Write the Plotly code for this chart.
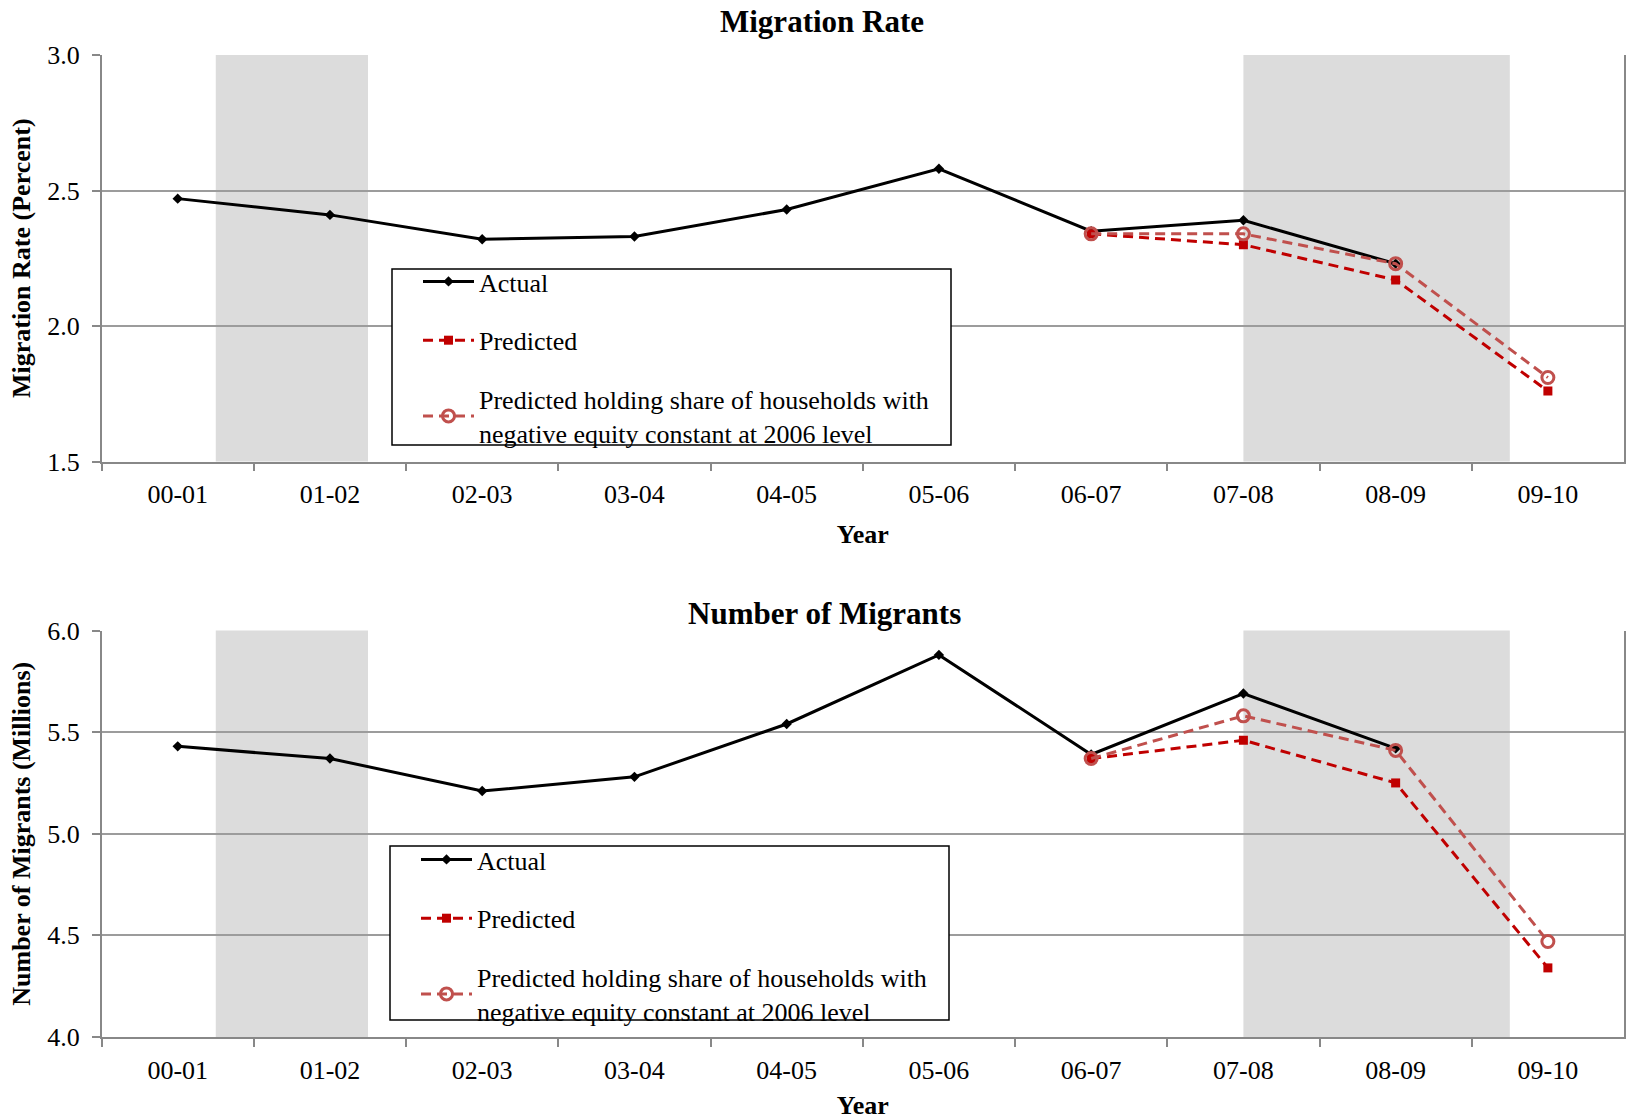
import plotly.graph_objects as go

years = ["00-01", "01-02", "02-03", "03-04", "04-05", "05-06", "06-07", "07-08", "08-09", "09-10"]

# Top panel: migration rate (percent)
rate_actual = [2.47, 2.41, 2.32, 2.33, 2.43, 2.58, 2.35, 2.39, 2.23]
pred_years = ["06-07", "07-08", "08-09", "09-10"]
rate_pred = [2.34, 2.30, 2.17, 1.76]
rate_const = [2.34, 2.34, 2.23, 1.81]

# Bottom panel: number of migrants (millions)
mig_actual = [5.43, 5.37, 5.21, 5.28, 5.54, 5.88, 5.39, 5.69, 5.42]
mig_pred = [5.37, 5.46, 5.25, 4.34]
mig_const = [5.37, 5.58, 5.41, 4.47]

# Recession shading (category index units)
recessions = [(0.25, 1.25), (7.0, 8.75)]

FONT = "Liberation Serif"
BLACK = "#000000"
RED = "#C00000"
ROSE = "#C0504D"
GRID = "#9c9c9c"
AXC = "#888888"

W, H = 1626, 1120


def px_x(v):
    return v / W


def px_y(v):
    return 1 - v / H


fig = go.Figure()

names = ["Actual", "Predicted",
         "Predicted holding share of households with<br>negative equity constant at 2006 level"]


def add_panel(xa, ya, legend, actual, pred, const):
    fig.add_trace(go.Scatter(
        x=years[:len(actual)], y=actual, name=names[0], xaxis=xa, yaxis=ya,
        mode="lines+markers", line=dict(color=BLACK, width=3),
        marker=dict(symbol="diamond", size=8, color=BLACK),
        legend=legend, legendgroup=legend + "a"))
    fig.add_trace(go.Scatter(
        x=pred_years, y=pred, name=names[1], xaxis=xa, yaxis=ya,
        mode="lines+markers", line=dict(color=RED, width=3, dash="10px,6px"),
        marker=dict(symbol="square", size=9, color=RED),
        legend=legend, legendgroup=legend + "b"))
    fig.add_trace(go.Scatter(
        x=pred_years, y=const, name=names[2], xaxis=xa, yaxis=ya,
        mode="lines+markers", line=dict(color=ROSE, width=3, dash="10px,6px"),
        marker=dict(symbol="circle-open", size=12, color=ROSE, line=dict(width=3)),
        legend=legend, legendgroup=legend + "c"))


add_panel("x", "y", "legend", rate_actual, rate_pred, rate_const)
add_panel("x2", "y2", "legend2", mig_actual, mig_pred, mig_const)

shapes = []
for xr, yr in (("x", "y"), ("x2", "y2")):
    for a, b in recessions:
        shapes.append(dict(type="rect", xref=xr, yref=yr + " domain", x0=a, x1=b, y0=0, y1=1,
                           fillcolor="#dcdcdc", line=dict(width=0), layer="below"))

# legend frames
for (l, r, t, b) in ((392, 951, 269, 445), (390, 949, 846, 1020)):
    shapes.append(dict(type="rect", xref="paper", yref="paper",
                       x0=px_x(l), x1=px_x(r), y0=px_y(b), y1=px_y(t),
                       fillcolor="white", line=dict(color=BLACK, width=1.5), layer="above"))

xdom = [px_x(101.6), px_x(1624)]
top_dom = [px_y(461.5), px_y(55)]
bot_dom = [px_y(1037), px_y(630.5)]

tickfont = dict(family=FONT, size=26, color=BLACK)
titlefont = dict(family=FONT, size=26, color=BLACK)


def xaxis(anchor):
    return dict(domain=xdom, anchor=anchor, type="category", categoryorder="array",
                categoryarray=years, range=[-0.5, 9.5], tickson="boundaries",
                ticks="outside", ticklen=8, tickwidth=1.5, tickcolor=AXC,
                showline=True, linecolor=AXC, linewidth=1.5, showgrid=False,
                tickfont=tickfont, ticklabelstandoff=9,
                title=dict(text="<b>Year</b>", font=titlefont, standoff=16))


def yaxis(anchor, dom, rng, dtick, title):
    return dict(domain=dom, anchor=anchor, range=rng, dtick=dtick, tickformat=".1f",
                ticks="outside", ticklen=8, tickwidth=1.5, tickcolor=AXC,
                showline=True, linecolor=AXC, linewidth=1.5, mirror=True,
                showgrid=True, gridcolor=GRID, gridwidth=1.5, zeroline=False,
                tickfont=tickfont, ticklabelstandoff=7,
                title=dict(text="<b>" + title + "</b>", font=titlefont, standoff=9))


legend_common = dict(font=dict(family=FONT, size=26, color=BLACK), bgcolor="rgba(0,0,0,0)",
                     borderwidth=0, tracegroupgap=22, itemwidth=51,
                     xanchor="left", yanchor="top", itemclick=False)

fig.update_layout(
    width=W, height=H, margin=dict(l=0, r=0, t=0, b=0, autoexpand=False),
    paper_bgcolor="white", plot_bgcolor="white",
    font=dict(family=FONT, color=BLACK),
    xaxis=xaxis("y"),
    yaxis=yaxis("x", top_dom, [1.5, 3.0], 0.5, "Migration Rate (Percent)"),
    xaxis2=xaxis("y2"),
    yaxis2=yaxis("x2", bot_dom, [4.0, 6.0], 0.5, "Number of Migrants (Millions)"),
    legend=dict(x=px_x(418), y=px_y(258), **legend_common),
    legend2=dict(x=px_x(416), y=px_y(836), **legend_common),
    shapes=shapes,
    annotations=[
        dict(text="<b>Migration Rate</b>", xref="paper", yref="paper", x=px_x(822), y=px_y(21),
             showarrow=False, font=dict(family=FONT, size=31, color=BLACK), yanchor="middle"),
        dict(text="<b>Number of Migrants</b>", xref="paper", yref="paper", x=px_x(824), y=px_y(613),
             showarrow=False, font=dict(family=FONT, size=31, color=BLACK), yanchor="middle"),
    ],
    showlegend=True,
)

fig.write_html("out.html", config={"displayModeBar": False},
               post_script="document.body.style.margin='0';document.body.style.overflow='hidden';")
